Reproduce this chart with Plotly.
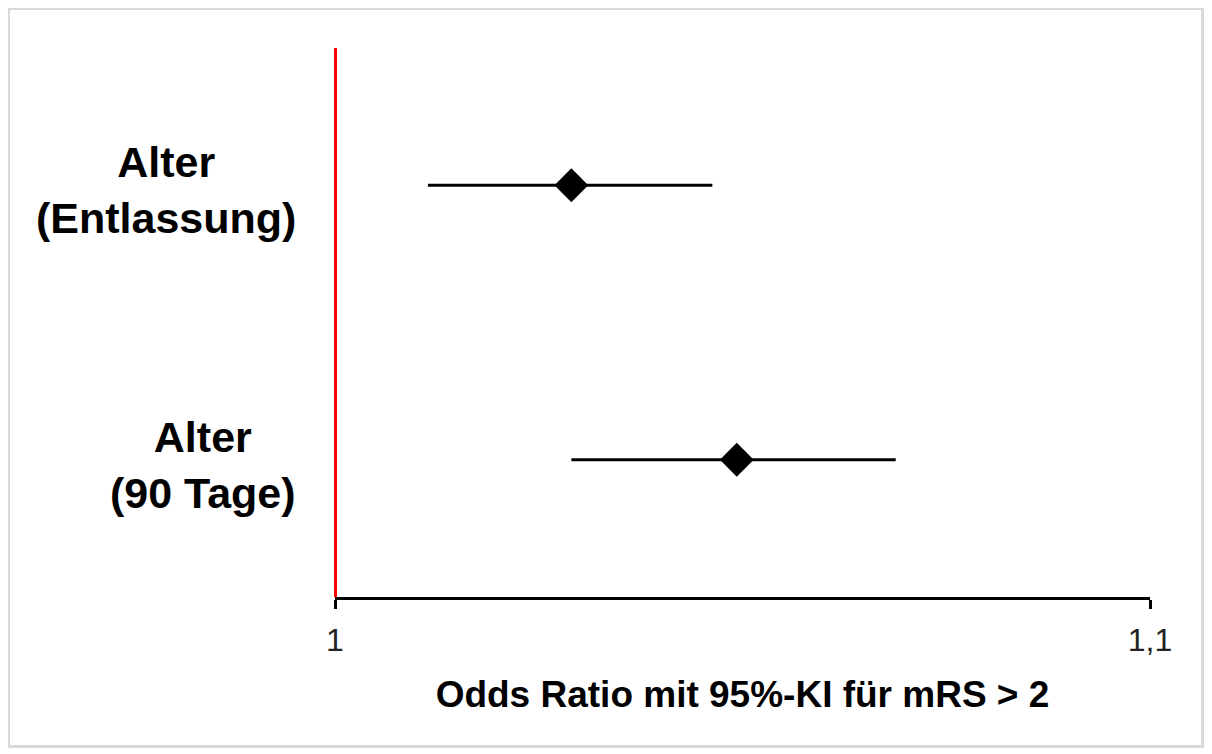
import plotly.graph_objects as go

# Data
categories = ["Alter<br>(90 Tage)", "Alter<br>(Entlassung)"]
odds_ratio = [1.0493, 1.0290]
ci_low = [1.0290, 1.0114]
ci_high = [1.0688, 1.0463]
tick_vals = [1.0, 1.1]
tick_text = ["1", "1,1"]
x_title = "Odds Ratio mit 95%-KI für mRS > 2"

FONT = "Liberation Sans, Arial, sans-serif"

err_plus = [h - o for h, o in zip(ci_high, odds_ratio)]
err_minus = [o - l for o, l in zip(odds_ratio, ci_low)]

fig = go.Figure()
fig.add_trace(go.Scatter(
    x=odds_ratio, y=categories, mode="markers",
    marker=dict(symbol="diamond", size=26, color="black"),
    error_x=dict(type="data", symmetric=False, array=err_plus, arrayminus=err_minus,
                 color="black", thickness=3, width=0),
    showlegend=False, hoverinfo="x+y",
))

# y labels as centered annotations
for c in categories:
    fig.add_annotation(x=0, xref="paper", y=c, yref="y", text="<b>%s</b>" % c,
                       showarrow=False, xanchor="right", align="center", xshift=-37,
                       yshift=-5,
                       font=dict(family=FONT, size=43, color="black"))

# border
fig.add_shape(type="rect", xref="paper", yref="paper", x0=-0.4006, x1=1.0644,
              y0=-0.2723, y1=1.072, line=dict(color="#d9d9d9", width=3))

fig.update_layout(
    width=1212, height=754,
    margin=dict(l=327, r=70, t=40, b=165),
    paper_bgcolor="white", plot_bgcolor="white",
    font=dict(family=FONT, color="black"),
    xaxis=dict(range=[1.0, 1.1], tickvals=tick_vals, ticktext=tick_text,
               showgrid=False, zeroline=False, showline=True, linecolor="black", linewidth=3,
               ticks="outside", ticklen=9, tickwidth=3, tickcolor="black",
               ticklabelstandoff=4,
               tickfont=dict(family=FONT, size=32, color="#222222"),
               title=dict(text="<b>%s</b>" % x_title, font=dict(family=FONT, size=37, color="black"),
                          standoff=24)),
    xaxis2=dict(range=[1.0, 1.1], tickvals=tick_vals, overlaying="x", anchor="y", side="bottom",
                showgrid=False, zeroline=False, showline=False, showticklabels=False,
                ticks="inside", ticklen=9, tickwidth=3, tickcolor="black"),
    yaxis=dict(type="category", categoryorder="array", categoryarray=categories,
               range=[-0.5, 1.5], showgrid=False, zeroline=False, showticklabels=False,
               anchor="free", position=0,
               showline=True, linecolor="red", linewidth=3, ticks=""),
)

fig.write_html("out.html")
